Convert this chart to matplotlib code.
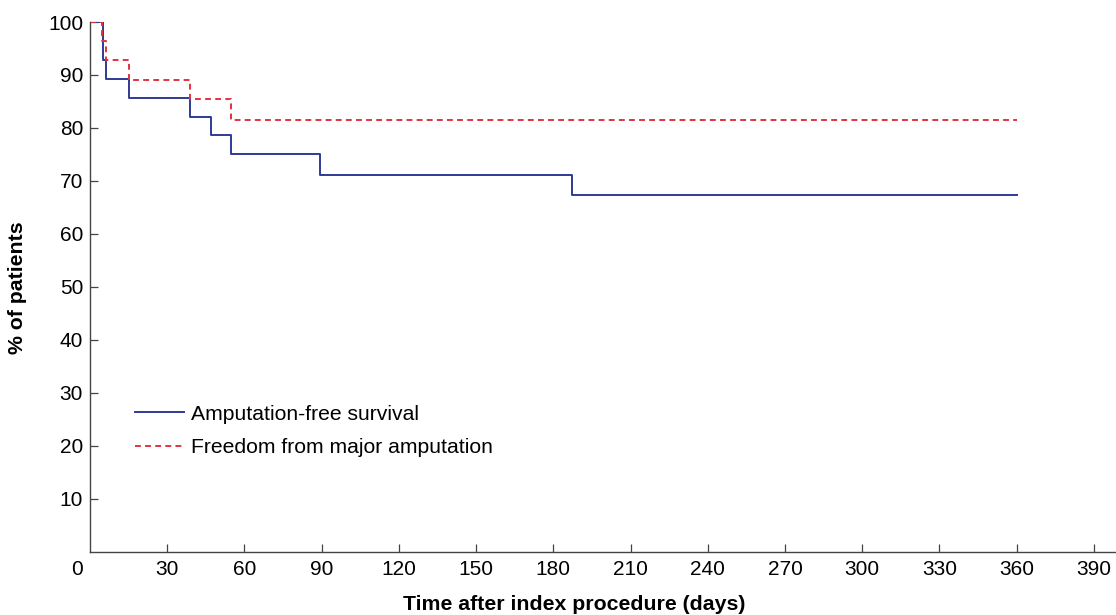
"""
Kaplan-Meier style curves: amputation-free survival and
freedom from major amputation after the index procedure
"""
import matplotlib
matplotlib.use("Agg")
from matplotlib import pyplot as plt

# step curves (time in days, % of patients)
afs_days = [0, 5.2, 6.1, 15.3, 38.9, 46.9, 54.8, 89.3, 187.4, 360]
afs_pct = [100, 92.9, 89.3, 85.7, 82.1, 78.6, 75.0, 71.1, 67.3, 67.3]
ffa_days = [0, 4.8, 6.1, 15.3, 38.9, 54.8, 360]
ffa_pct = [100, 96.4, 92.9, 89.1, 85.4, 81.4, 81.4]

x_ticks = [30, 60, 90, 120, 150, 180, 210, 240, 270, 300, 330, 360, 390]
y_ticks = [10, 20, 30, 40, 50, 60, 70, 80, 90, 100]
labels = ["Amputation-free survival", "Freedom from major amputation"]


def main():
    plt.rcParams['font.family'] = ['Liberation Sans', 'DejaVu Sans']
    fig = plt.figure(figsize=(11.16, 6.15), dpi=100)
    ax = fig.add_axes([90 / 1116, 1 - 551.5 / 615, 1 - 90 / 1116, (551.5 - 22) / 615])

    ax.step(afs_days, afs_pct, where='post', color='#2f3a96', lw=1.4,
            label=labels[0])
    ax.step(ffa_days, ffa_pct, where='post', color='#e0343e', lw=1.4,
            dashes=(3.0, 2.2), label=labels[1])

    ax.set_xlim(0, 398.6)
    ax.set_ylim(0, 100)
    ax.set_xticks(x_ticks)
    ax.set_yticks(y_ticks)
    for side in ['top', 'right']:
        ax.spines[side].set_visible(False)
    for side in ['left', 'bottom']:
        ax.spines[side].set_color('#444444')
        ax.spines[side].set_linewidth(1.0)
    ax.tick_params(direction='in', length=6, width=0.9, color='#444444',
                   labelsize=15)
    ax.tick_params(axis='x', pad=6)
    ax.tick_params(axis='y', pad=5)
    # lone "0" at the origin, set apart to the left
    ax.annotate("0", xy=(0, 0), xycoords='axes fraction',
                xytext=(-9.4, -6), textcoords='offset points',
                fontsize=15, ha='center', va='top')

    fig.text(574 / 1116, 1 - 604 / 615, "Time after index procedure (days)",
             fontsize=15.3, fontweight='bold', ha='center', va='center')
    fig.text(18 / 1116, 1 - 288 / 615, "% of patients", fontsize=15.3,
             fontweight='bold', rotation=90, ha='center', va='center')

    ax.legend(loc='center left', bbox_to_anchor=(135 / 1116, 1 - 431 / 615),
              bbox_transform=fig.transFigure, frameon=False, fontsize=15.2,
              handlelength=2.3, handletextpad=0.34, labelspacing=0.7,
              borderpad=0, borderaxespad=0)

    fig.savefig("out.png", dpi=100)


if __name__ == '__main__':
    main()
